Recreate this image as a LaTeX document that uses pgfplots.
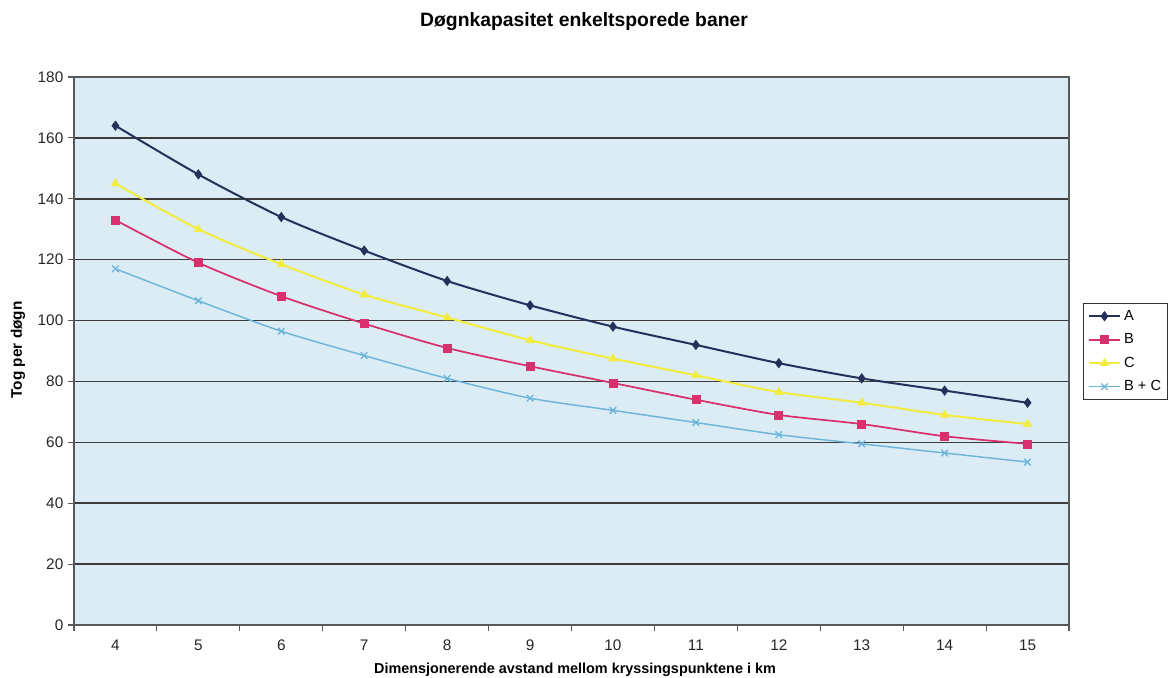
\documentclass[border=0pt]{standalone}
\usepackage{pgfplots}
\pgfplotsset{compat=1.18}
\usepackage{fontspec}
\setmainfont{Liberation Sans}

\definecolor{plotbg}{HTML}{DBECF5}
\definecolor{serA}{HTML}{24315A}
\definecolor{serB}{HTML}{D8306C}
\definecolor{serC}{HTML}{F2EC3C}
\definecolor{serBC}{HTML}{6DB6DA}
\definecolor{gridc}{HTML}{3C3C3C}

\begin{document}
\begin{tikzpicture}
\begin{axis}[
    scale only axis,
    width=746.25pt, height=411pt,
    xmin=3.5, xmax=15.5,
    ymin=0, ymax=180,
    xtick={4,...,15},
    minor xtick={3.5,4.5,...,15.5},
    ytick={0,20,...,180},
    major x tick style={draw=none},
    tick align=outside,
    major tick length=4.5pt,
    minor tick length=4.5pt,
    xtick pos=bottom, ytick pos=left,
    ymajorgrids,
    major grid style={draw=gridc, line width=1.2pt},
    axis line style={draw=gray!70!black, line width=0.8pt},
    tick style={draw=gray!70!black, line width=0.8pt},
    axis background/.style={fill=plotbg},
    /pgf/number format/assume math mode=true,
    tick label style={font=\fontsize{11.5}{13}\selectfont, text=black!85},
    xticklabel style={yshift=-3pt},
    every axis title shift=0pt,
    title={\bfseries Døgnkapasitet enkeltsporede baner},
    title style={at={(axis description cs:0.5126,1.102)}, anchor=center, font=\fontsize{14.5}{16}\selectfont},
    xlabel={\bfseries Dimensjonerende avstand mellom kryssingspunktene i km},
    xlabel style={at={(axis description cs:0.5035,-0.0825)}, anchor=center, font=\fontsize{10.8}{12}\selectfont},
    ylabel={\bfseries Tog per døgn},
    ylabel style={at={(axis description cs:-0.0563,0.502)}, anchor=center, rotate=0, font=\fontsize{11.5}{13}\selectfont},
    legend style={at={(axis description cs:1.0141,0.5876)}, anchor=north west,
        draw=black!80, line width=0.8pt, fill=white, font=\fontsize{11}{12}\selectfont,
        row sep=4.5pt, inner sep=3pt},
    legend cell align=left,
    legend image code/.code={\draw[mark repeat=2,mark phase=2] plot coordinates {(0cm,0cm)(0.42cm,0cm)(0.84cm,0cm)};},
    every axis plot/.append style={smooth, tension=0.45},
]
\addplot[color=serA, line width=1.5pt, mark=diamond*, mark size=3.5pt, mark options={line width=0.5pt}]
    coordinates {(4,164) (5,148) (6,134) (7,123) (8,113) (9,105) (10,98) (11,92) (12,86) (13,81) (14,77) (15,73)};
\addplot[color=serB, line width=1.3pt, mark=square*, mark size=3pt, mark options={line width=0.5pt}]
    coordinates {(4,133) (5,119) (6,108) (7,99) (8,91) (9,85) (10,79.5) (11,74) (12,69) (13,66) (14,62) (15,59.5)};
\addplot[color=serC, line width=1.5pt, mark=triangle*, mark size=3.5pt, mark options={line width=0.5pt}]
    coordinates {(4,145) (5,130) (6,118.5) (7,108.5) (8,101) (9,93.5) (10,87.5) (11,82) (12,76.5) (13,73) (14,69) (15,66)};
\addplot[color=serBC, line width=1.1pt, mark=x, mark size=3.5pt, mark options={line width=1pt}]
    coordinates {(4,117) (5,106.5) (6,96.5) (7,88.5) (8,81) (9,74.5) (10,70.5) (11,66.5) (12,62.5) (13,59.5) (14,56.5) (15,53.5)};
\legend{A, B, C, B + C}
\end{axis}
\pgfresetboundingbox
\useasboundingbox (-55.5pt,-39.75pt) rectangle (820.5pt,468.75pt);
\end{tikzpicture}
\end{document}
